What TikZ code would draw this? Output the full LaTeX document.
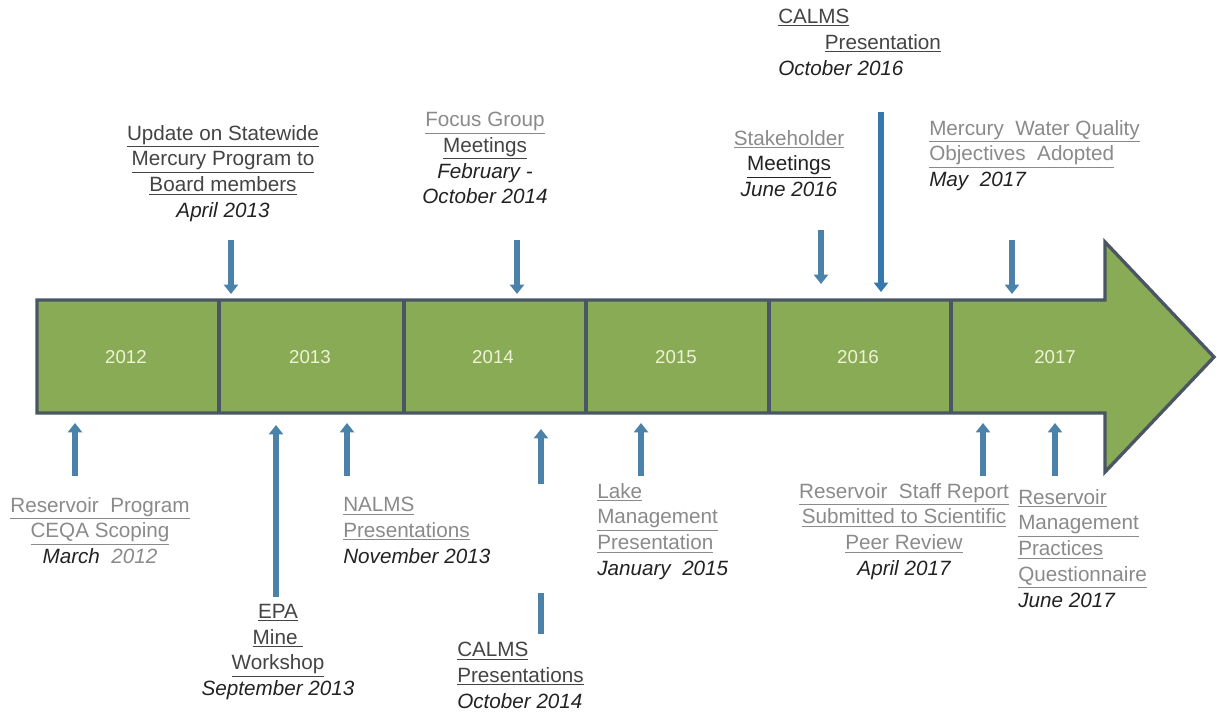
\documentclass[tikz,border=0pt]{standalone}
\usepackage{fontspec}
\setmainfont{Liberation Sans}
\usetikzlibrary{arrows.meta}
\definecolor{barfill}{HTML}{8AAB55}
\definecolor{barline}{HTML}{4A5663}
\definecolor{yeartxt}{HTML}{EEF3D8}
\definecolor{evblue}{HTML}{4B82AA}
\definecolor{evblue2}{HTML}{3577AE}
\definecolor{tgray}{HTML}{8A8A8A}
\definecolor{tdark}{HTML}{444444}
\definecolor{ddate}{HTML}{222222}
\tikzset{
  lbl/.style={font=\fontsize{15.5}{19.3}\selectfont, inner sep=0pt, anchor=north, align=center},
  lbll/.style={font=\fontsize{15.5}{19.3}\selectfont, inner sep=0pt, anchor=north west, align=left},
  yearlbl/.style={font=\fontsize{14}{16}\selectfont, text=yeartxt, inner sep=0pt},
  evarrow/.style={draw=evblue, line width=4.5pt, -{Triangle[width=10.5pt,length=7pt]}},
  divider/.style={draw=barline, line width=2.5pt},
}
\newcommand{\ul}[1]{\underline{#1}}
\begin{document}
\begin{tikzpicture}[x=0.75pt, y=-0.75pt]
\useasboundingbox (0,0) rectangle (1217,713);
% timeline arrow
\draw[fill=barfill, draw=barline, line width=2.5pt, line join=miter]
  (37,300) -- (1105,300) -- (1105,242) -- (1214,357) -- (1105,472) -- (1105,413) -- (37,413) -- cycle;
\foreach \xx in {219,404,586,769,951} \draw[divider] (\xx,300) -- (\xx,413);
% years
\node[yearlbl] (y2012) at (126,357) {2012};
\node[yearlbl] (y2013) at (310,357) {2013};
\node[yearlbl] (y2014) at (493,357) {2014};
\node[yearlbl] (y2015) at (676,357) {2015};
\node[yearlbl] (y2016) at (858,357) {2016};
\node[yearlbl] (y2017) at (1055,357) {2017};
% arrow coordinates
\coordinate (dA1) at (231,240); \coordinate (dA2) at (231,294);
\coordinate (dB1) at (517,240); \coordinate (dB2) at (517,294);
\coordinate (dC1) at (821,230); \coordinate (dC2) at (821,284);
\coordinate (dD1) at (881,112); \coordinate (dD2) at (881,292);
\coordinate (dE1) at (1012,240); \coordinate (dE2) at (1012,294);
\coordinate (uA1) at (75,476); \coordinate (uA2) at (75,423);
\coordinate (uB1) at (276,597); \coordinate (uB2) at (276,425);
\coordinate (uC1) at (347,476); \coordinate (uC2) at (347,423);
\coordinate (uD1) at (541,484); \coordinate (uD2) at (541,429);
\coordinate (uE1) at (641,476); \coordinate (uE2) at (641,423);
\coordinate (uF1) at (983,476); \coordinate (uF2) at (983,423);
\coordinate (uG1) at (1055,476); \coordinate (uG2) at (1055,423);
\coordinate (bar1) at (541,593); \coordinate (bar2) at (541,634);
\draw[evarrow] (dA1) -- (dA2);
\draw[evarrow] (dB1) -- (dB2);
\draw[evarrow] (dC1) -- (dC2);
\draw[evarrow, draw=evblue2] (dD1) -- (dD2);
\draw[evarrow] (dE1) -- (dE2);
\draw[evarrow] (uA1) -- (uA2);
\draw[evarrow] (uB1) -- (uB2);
\draw[evarrow] (uC1) -- (uC2);
\draw[evarrow] (uD1) -- (uD2);
\draw[evarrow] (uE1) -- (uE2);
\draw[evarrow] (uF1) -- (uF2);
\draw[evarrow] (uG1) -- (uG2);
\draw[draw=evblue, line width=4.5pt] (bar1) -- (bar2);
% labels above
\node[lbl] (tUpdate) at (223,125) {{\color{tdark}\ul{Update on Statewide}}\\{\color{tdark}\ul{Mercury Program to}}\\{\color{tdark}\ul{Board members}}\\{\color{ddate}\itshape April 2013}};
\node[lbl] (tFocus) at (485,112) {{\color{tgray}\ul{Focus Group}}\\{\color{tdark}\ul{Meetings}}\\{\color{ddate}\itshape February -}\\{\color{ddate}\itshape October 2014}};
\node[lbl] (tStake) at (789,130) {{\color{tgray}\ul{Stakeholder}}\\{\color{ddate}\ul{Meetings}}\\{\color{ddate}\itshape June 2016}};
\node[lbll] (tCalms16) at (778,9) {{\color{tdark}\ul{CALMS}}\\{\hspace*{35pt}\color{tdark}\ul{Presentation}}\\{\color{ddate}\itshape October 2016}};
\node[lbll] (tMerc) at (929,120) {{\color{tgray}\ul{Mercury\ \ Water Quality}}\\{\color{tgray}\ul{Objectives\ \ Adopted}}\\{\color{ddate}\itshape May\ \ 2017}};
% labels below
\node[lbl] (tResProg) at (100,497) {{\color{tgray}\ul{Reservoir\ \ Program}}\\{\color{tgray}\ul{CEQA Scoping}}\\{\color{ddate}\itshape March\ \ {\color{tgray}2012}}};
\node[lbl] (tEPA) at (278,604) {{\color{tdark}\ul{EPA}}\\{\color{tdark}\ul{Mine\ }}\\{\color{tdark}\ul{Workshop}}\\{\color{ddate}\itshape September 2013}};
\node[lbll] (tNALMS) at (343,497) {{\color{tgray}\ul{NALMS}}\\{\color{tgray}\ul{Presentations}}\\{\color{ddate}\itshape November 2013}};
\node[lbll] (tCalms14) at (457,642) {{\color{tdark}\ul{CALMS}}\\{\color{tdark}\ul{Presentations}}\\{\color{ddate}\itshape October 2014}};
\node[lbll] (tLake) at (597,483) {{\color{tgray}\ul{Lake}}\\{\color{tgray}\ul{Management}}\\{\color{tgray}\ul{Presentation}}\\{\color{ddate}\itshape January\ \ 2015}};
\node[lbl] (tStaff) at (904,483) {{\color{tgray}\ul{Reservoir\ \ Staff Report}}\\{\color{tgray}\ul{Submitted to Scientific}}\\{\color{tgray}\ul{Peer Review}}\\{\color{ddate}\itshape April 2017}};
\node[lbll] (tMgmt) at (1018,489) {{\color{tgray}\ul{Reservoir}}\\{\color{tgray}\ul{Management}}\\{\color{tgray}\ul{Practices}}\\{\color{tgray}\ul{Questionnaire}}\\{\color{ddate}\itshape June 2017}};
\end{tikzpicture}
\end{document}
